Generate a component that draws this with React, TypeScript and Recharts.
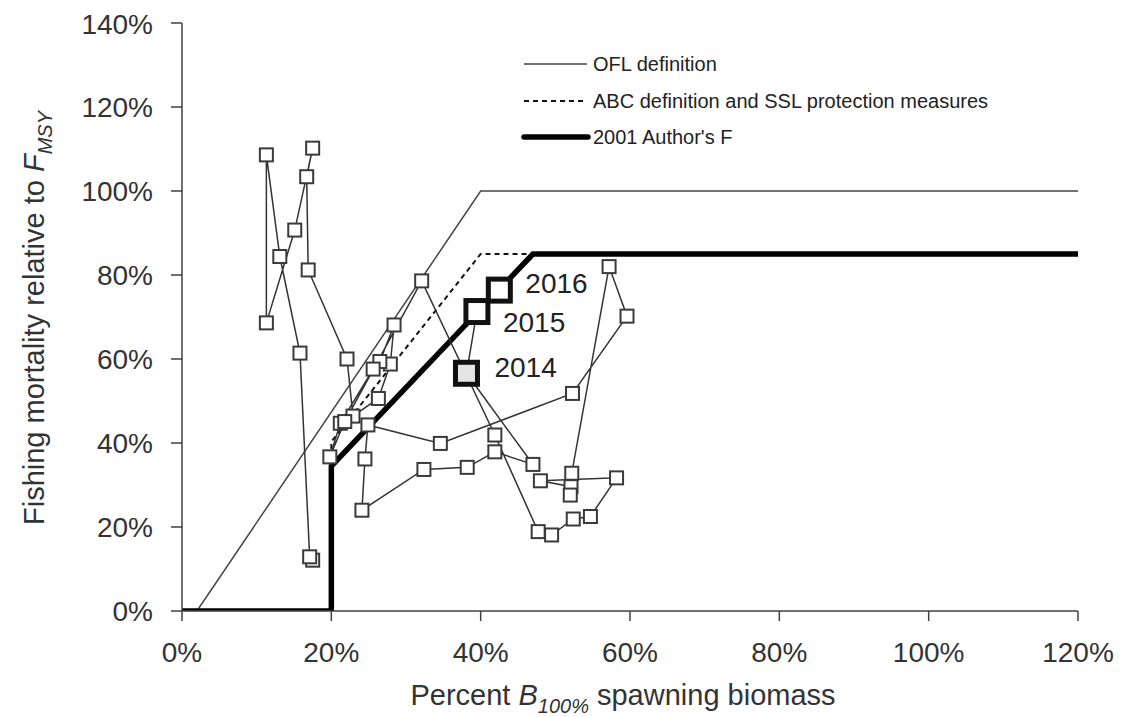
import React from 'react';
import { ComposedChart, Line, Scatter, XAxis, YAxis } from 'recharts';

const FONT = '"Liberation Sans", Arial, Helvetica, sans-serif';

// stock trajectory, one point per year
const years = [
  1972, 1973, 1974, 1975, 1976, 1977, 1978, 1979, 1980, 1981,
  1982, 1983, 1984, 1985, 1986, 1987, 1988, 1989, 1990, 1991,
  1992, 1993, 1994, 1995, 1996, 1997, 1998, 1999, 2000, 2001,
  2002, 2003, 2004, 2005, 2006, 2007, 2008, 2009, 2010, 2011,
  2012, 2013, 2014, 2015, 2016,
];
const biomassPct = [
  17.5, 17.1, 15.8, 13.1, 11.3, 11.3, 15.1, 17.5, 16.7, 16.9,
  22.1, 22.9, 26.3, 27.9, 28.4, 26.5, 25.6, 21.2, 19.8, 21.8,
  32.1, 41.9, 47.7, 49.5, 52.4, 54.7, 58.2, 48.0, 52.1, 52.0,
  52.2, 57.2, 59.6, 52.3, 34.6, 24.9, 24.5, 24.1, 32.4, 38.2,
  41.9, 47.0, 38.1, 39.5, 42.5,
];
const fishingPct = [
  12.1, 12.9, 61.4, 84.4, 108.6, 68.6, 90.7, 110.2, 103.4, 81.2,
  60.0, 46.4, 50.6, 58.8, 68.1, 59.4, 57.6, 44.7, 36.7, 45.1,
  78.6, 41.9, 18.9, 18.1, 21.9, 22.5, 31.7, 31.0, 29.6, 27.6,
  32.8, 82.0, 70.2, 51.8, 39.9, 44.3, 36.2, 24.0, 33.7, 34.2,
  37.9, 34.9, 56.6, 71.3, 76.4,
];
const highlightYears = [2014, 2015, 2016];

// harvest control rules
const oflBiomass = [2, 40, 120];
const oflF = [0, 100, 100];
const abcBiomass = [20, 20, 40, 120];
const abcF = [0, 40.3, 85, 85];
const authorBiomass = [0, 20, 20, 47, 120];
const authorF = [0, 0, 34.5, 85, 85];

const xTicks = [0, 20, 40, 60, 80, 100, 120];
const yTicks = [0, 20, 40, 60, 80, 100, 120, 140];

const toXY = (xs: number[], ys: number[]) => xs.map((x, i) => ({ x, y: ys[i] }));

const trajectory = years.map((year, i) => ({ year, x: biomassPct[i], y: fishingPct[i] }));

const labelOffset: Record<number, [number, number]> = {
  2014: [28, 4],
  2015: [26, 20],
  2016: [26, 3],
};

const YearMarker = (props: any) => {
  const { cx, cy, payload } = props;
  if (cx == null || cy == null) return null;
  if (highlightYears.includes(payload.year)) {
    const s = 22;
    const [dx, dy] = labelOffset[payload.year];
    return (
      <g>
        <rect
          x={cx - s / 2}
          y={cy - s / 2}
          width={s}
          height={s}
          fill={payload.year === 2014 ? '#e4e4e4' : '#ffffff'}
          stroke="#111"
          strokeWidth={5}
        />
        <text x={cx + dx} y={cy + dy} fontSize={28} fill="#222" fontFamily={FONT}>
          {payload.year}
        </text>
      </g>
    );
  }
  const s = 13;
  return (
    <rect x={cx - s / 2} y={cy - s / 2} width={s} height={s} fill="#fff" stroke="#3a3a3a" strokeWidth={2} />
  );
};

export default function App() {
  return (
    <div style={{ position: 'relative', width: 1119, height: 709, fontFamily: FONT }}>
      <ComposedChart width={1119} height={709} margin={{ top: 15, right: 49, bottom: 0, left: 0 }}>
        <XAxis
          type="number"
          dataKey="x"
          domain={[0, 120]}
          ticks={xTicks}
          tickFormatter={(v: number) => `${v}%`}
          height={106}
          tickSize={10}
          tickMargin={21}
          stroke="#404040"
          strokeWidth={1.5}
          tick={{ fontSize: 28, fill: '#333', fontFamily: FONT }}
          allowDataOverflow
        />
        <YAxis
          type="number"
          dataKey="y"
          domain={[0, 140]}
          ticks={yTicks}
          tickFormatter={(v: number) => `${v}%`}
          width={174}
          tickSize={11}
          tickMargin={18}
          stroke="#404040"
          strokeWidth={1.5}
          tick={{ fontSize: 28, fill: '#333', fontFamily: FONT }}
          allowDataOverflow
        />
        <Line
          data={toXY(oflBiomass, oflF)}
          dataKey="y"
          type="linear"
          stroke="#444"
          strokeWidth={1.5}
          dot={false}
          isAnimationActive={false}
        />
        <Line
          data={toXY(abcBiomass, abcF)}
          dataKey="y"
          type="linear"
          stroke="#111"
          strokeWidth={2}
          strokeDasharray="5 4"
          dot={false}
          isAnimationActive={false}
        />
        <Line
          data={toXY(authorBiomass, authorF)}
          dataKey="y"
          type="linear"
          stroke="#000"
          strokeWidth={5.5}
          dot={false}
          isAnimationActive={false}
        />
        <Scatter
          data={trajectory}
          line={{ stroke: '#333', strokeWidth: 1.5 }}
          lineJointType="linear"
          shape={YearMarker}
          isAnimationActive={false}
        />
      </ComposedChart>
      <svg
        width={1119}
        height={709}
        style={{ position: 'absolute', left: 0, top: 0, pointerEvents: 'none' }}
        fontFamily={FONT}
      >
        {/* legend */}
        <line x1={516} y1={56} x2={579} y2={56} stroke="#444" strokeWidth={1.5} />
        <text x={585} y={63} fontSize={20} fill="#222">OFL definition</text>
        <line x1={516} y1={93} x2={579} y2={93} stroke="#111" strokeWidth={2} strokeDasharray="5 4" />
        <text x={585} y={100} fontSize={20} fill="#222">ABC definition and SSL protection measures</text>
        <line x1={516} y1={129} x2={580} y2={129} stroke="#000" strokeWidth={5.5} strokeLinecap="round" />
        <text x={585} y={136} fontSize={20} fill="#222">2001 Author's F</text>

        {/* axis titles */}
        <text x={615} y={697} fontSize={29} fill="#333" textAnchor="middle">
          Percent <tspan fontStyle="italic">B</tspan>
          <tspan fontStyle="italic" fontSize={20} dy={8}>100%</tspan>
          <tspan dy={-8}> spawning biomass</tspan>
        </text>
        <text
          x={36}
          y={310}
          fontSize={29}
          fill="#333"
          textAnchor="middle"
          transform="rotate(-90 36 310)"
        >
          Fishing mortality relative to <tspan fontStyle="italic">F</tspan>
          <tspan fontStyle="italic" fontSize={20} dy={8}>MSY</tspan>
        </text>
      </svg>
    </div>
  );
}
